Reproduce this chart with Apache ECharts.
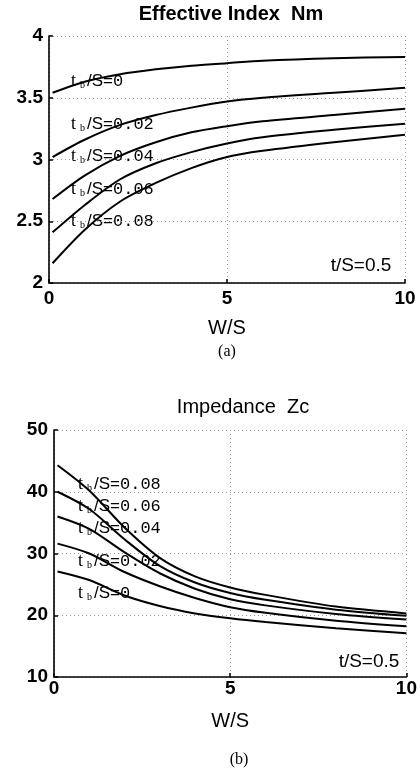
<!DOCTYPE html>
<html>
<head>
<meta charset="utf-8">
<script src="https://cdn.jsdelivr.net/npm/echarts@6/dist/echarts.min.js"></script>
<style>
  html, body { margin: 0; padding: 0; background: #fff; }
  #chart { width: 420px; height: 775px; }
</style>
</head>
<body>
<div id="chart"></div>
<script>
// W/S sample points (shared by both plots)
var ws = [0.1, 1, 2, 3, 4, 5, 6, 8, 10];

// (a) effective index Nm, one list per tb/S
var nm0  = [3.54, 3.63, 3.69, 3.73, 3.76, 3.78, 3.80, 3.82, 3.83];
var nm02 = [3.02, 3.16, 3.28, 3.36, 3.42, 3.47, 3.50, 3.54, 3.58];
var nm04 = [2.68, 2.87, 3.03, 3.14, 3.22, 3.27, 3.31, 3.36, 3.41];
var nm06 = [2.41, 2.63, 2.84, 2.97, 3.06, 3.13, 3.18, 3.24, 3.29];
var nm08 = [2.16, 2.43, 2.66, 2.81, 2.93, 3.02, 3.07, 3.14, 3.20];

// (b) impedance Zc
var zc0  = [27.1, 25.7, 23.2, 21.5, 20.3, 19.5, 18.9, 17.9, 17.1];
var zc02 = [31.6, 30.0, 27.0, 24.7, 22.8, 21.3, 20.4, 19.1, 18.2];
var zc04 = [36.0, 34.0, 30.2, 26.8, 24.3, 22.6, 21.6, 20.2, 19.3];
var zc06 = [40.0, 37.2, 32.3, 28.0, 25.3, 23.6, 22.5, 20.9, 19.9];
var zc08 = [44.3, 40.2, 34.2, 29.3, 26.3, 24.5, 23.3, 21.4, 20.3];

var ratios = ['0', '0.02', '0.04', '0.06', '0.08'];

function pairs(ys) {
  return ws.map(function (x, i) { return [x, ys[i]]; });
}

function curve(ys, idx) {
  return {
    type: 'line',
    xAxisIndex: idx,
    yAxisIndex: idx,
    data: pairs(ys),
    smooth: 0.3,
    symbol: 'none',
    lineStyle: { color: '#000', width: 2 },
    silent: true
  };
}

var tickFont = { color: '#000', fontSize: 19, fontWeight: 'bold', fontFamily: 'Liberation Sans' };
var gridLine = { show: true, lineStyle: { color: '#9a9a9a', type: [1, 3], width: 1 } };
var axisLine = { show: true, onZero: false, lineStyle: { color: '#000', width: 1.6 } };
var axisTick = { show: true, inside: true, length: 4, lineStyle: { color: '#000', width: 1.5 } };

function xAx(idx, margin) {
  return {
    type: 'value', gridIndex: idx, min: 0, max: 10, interval: 5,
    axisLine: axisLine, axisTick: axisTick, splitLine: gridLine,
    axisLabel: Object.assign({ margin: margin }, tickFont),
    name: 'W/S', nameLocation: 'middle', nameGap: idx === 0 ? 35 : 34,
    nameTextStyle: { color: '#000', fontSize: 20, fontFamily: 'Liberation Sans' }
  };
}

function yAx(idx, min, max, step) {
  return {
    type: 'value', gridIndex: idx, min: min, max: max, interval: step,
    axisLine: axisLine, axisTick: axisTick, splitLine: gridLine,
    axisLabel: Object.assign({ margin: 6 }, tickFont)
  };
}

var labelRich = {
  t: { fontFamily: 'Liberation Serif', fontSize: 18, fill: '#000' },
  b: { fontFamily: 'Liberation Serif', fontSize: 10, fill: '#000', padding: [9, 2, 0, 4] },
  s: { fontFamily: 'Liberation Sans', fontSize: 17, fill: '#000' },
  n: { fontFamily: 'Liberation Mono', fontSize: 17, fill: '#000' }
};

function tag(text, x, y) {
  return {
    type: 'text', left: x, top: y, silent: true,
    style: { text: text, rich: labelRich, fill: '#000' }
  };
}

function plain(text, x, y, size, weight, family) {
  return {
    type: 'text', silent: true,
    x: x, y: y,
    style: {
      text: text, fill: '#000', fontSize: size, fontWeight: weight || 'normal',
      fontFamily: family || 'Liberation Sans', align: 'center', verticalAlign: 'middle'
    }
  };
}

var tagsA = [83, 126, 158, 191, 223];
var tagsB = [595, 563, 530, 508, 486];
var graphics = [
  plain('Effective Index  Nm', 231, 14, 20, 'bold'),
  plain('Impedance  Zc', 243, 407, 20, 'normal'),
  plain('t/S=0.5', 361, 266, 19, 'normal'),
  plain('t/S=0.5', 369, 662, 19, 'normal'),
  plain('(a)', 227, 352, 16, 'normal', 'Liberation Serif'),
  plain('(b)', 239, 760, 16, 'normal', 'Liberation Serif')
];
ratios.forEach(function (r, i) {
  var txt = '{t|t}{b|b}{s|/S=}{n|' + r + '}';
  graphics.push(tag(txt, 71, tagsA[i] - 11));
  graphics.push(tag(txt, 78, tagsB[i] - 11));
});

var chart = echarts.init(document.getElementById('chart'), null, { renderer: 'canvas' });
chart.setOption({
  backgroundColor: '#fff',
  animation: false,
  grid: [
    { left: 49, top: 36, width: 356, height: 247 },
    { left: 54, top: 430, width: 361, height: 247 }
  ],
  xAxis: [xAx(0, 6), xAx(1, 2)],
  yAxis: [yAx(0, 2, 4, 0.5), yAx(1, 10, 50, 10)],
  series: [
    curve(nm0, 0), curve(nm02, 0), curve(nm04, 0), curve(nm06, 0), curve(nm08, 0),
    curve(zc0, 1), curve(zc02, 1), curve(zc04, 1), curve(zc06, 1), curve(zc08, 1)
  ],
  graphic: graphics
});
</script>
</body>
</html>
